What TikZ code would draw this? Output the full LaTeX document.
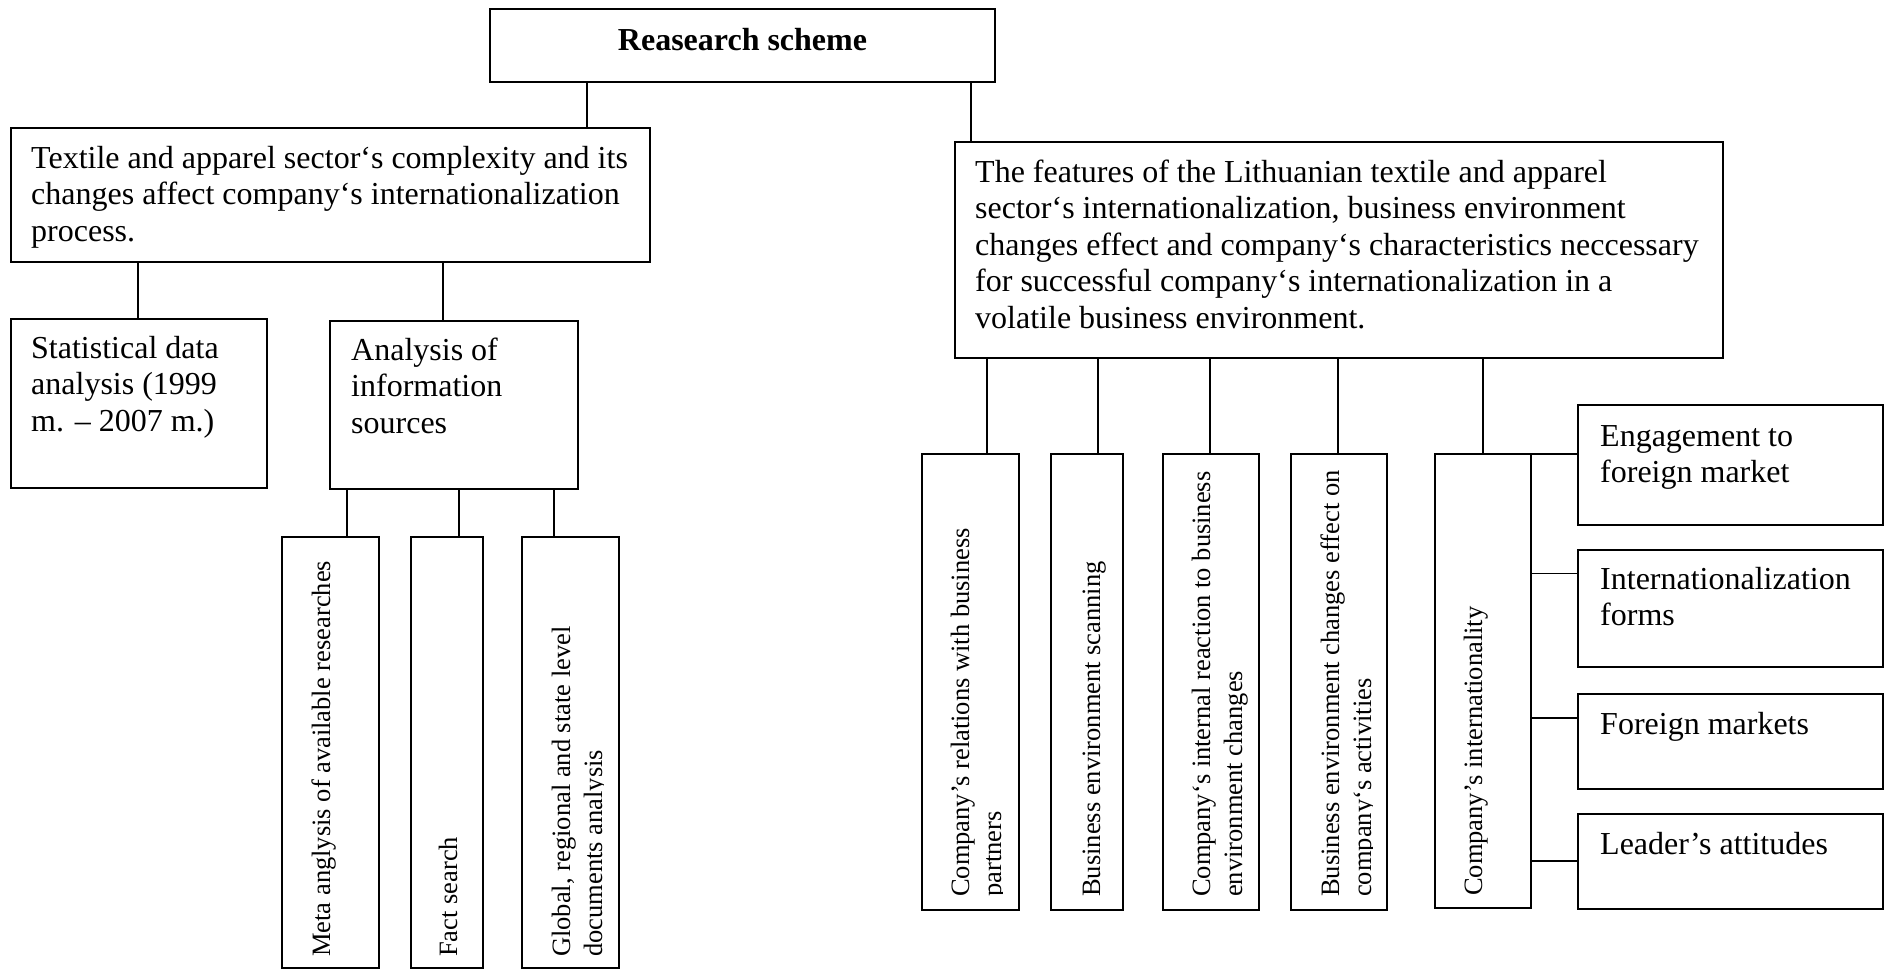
\documentclass[tikz,border=0pt]{standalone}
\usepackage{fontspec}
\setmainfont{Liberation Serif}
\newcommand\lns[1]{\begin{tabular}[t]{@{}l@{}}#1\end{tabular}}
\newcommand\mybox[5]{\node[box, minimum width=#4-#2, minimum height=#5-#3] (#1) at (#2,#3) {};}
\newcommand\vlink[3]{\draw[link] (#1,0 |- #2.south) -- (#1,0 |- #3.north);}
\newcommand\hlink[3]{\draw[link] (#2.east |- 0,#1) -- (#3.west |- 0,#1);}
\begin{document}
\begin{tikzpicture}[x=1pt, y=-1pt,
  box/.style={draw, line width=2.2pt, inner sep=0pt, outer sep=0pt, anchor=north west},
  link/.style={line width=1.8pt},
  txt/.style={inner sep=0pt, anchor=base west, font=\fontsize{32}{36.6}\selectfont},
  vtxt/.style={inner sep=0pt, anchor=base west, rotate=90, font=\fontsize{26.5}{32}\selectfont}]
\useasboundingbox[fill=white] (0,0) rectangle (1885,970);
% boxes
\mybox{top}{490}{9}{995}{82}
\mybox{lb}{11}{128}{650}{262}
\mybox{stat}{11}{319}{267}{488}
\mybox{anal}{330}{321}{578}{489}
\mybox{meta}{282}{537}{379}{968}
\mybox{fact}{411}{537}{483}{968}
\mybox{glob}{522}{537}{619}{968}
\mybox{rb}{955}{142}{1723}{358}
\mybox{rel}{922}{454}{1019}{910}
\mybox{scan}{1051}{454}{1123}{910}
\mybox{intr}{1163}{454}{1259}{910}
\mybox{eff}{1291}{454}{1387}{910}
\mybox{intl}{1435}{454}{1531}{908}
\mybox{eng}{1578}{405}{1883}{525}
\mybox{forms}{1578}{550}{1883}{667}
\mybox{fm}{1578}{694}{1883}{789}
\mybox{lead}{1578}{814}{1883}{909}
% connectors
\vlink{587}{top}{lb}
\vlink{971}{top}{rb}
\vlink{138}{lb}{stat}
\vlink{443}{lb}{anal}
\vlink{347}{anal}{meta}
\vlink{459}{anal}{fact}
\vlink{554}{anal}{glob}
\vlink{987}{rb}{rel}
\vlink{1098}{rb}{scan}
\vlink{1210}{rb}{intr}
\vlink{1338}{rb}{eff}
\vlink{1483}{rb}{intl}
\hlink{454}{intl}{eng}
\hlink{573.5}{intl}{forms}
\hlink{718}{intl}{fm}
\hlink{861}{intl}{lead}
% horizontal texts
\node[txt, anchor=base, font=\fontsize{32}{36.6}\selectfont\bfseries] (topt) at (742.5,50) {Reasearch scheme};
\node[txt] (lbt) at (31,168) {\lns{Textile and apparel sector‘s complexity and its\\changes affect company‘s internationalization\\process.}};
\node[txt] (statt) at (31,358) {\lns{Statistical data\\analysis (1999\\m. – 2007 m.)}};
\node[txt] (analt) at (351,360) {\lns{Analysis of\\information\\sources}};
\node[txt] (rbt) at (975,182) {\lns{The features of the Lithuanian textile and apparel\\sector‘s internationalization, business environment\\changes effect and company‘s characteristics neccessary\\for successful company‘s internationalization in a\\volatile business environment.}};
\node[txt] (engt) at (1600,446) {\lns{Engagement to\\foreign market}};
\node[txt] (formst) at (1600,589) {\lns{Internationalization\\forms}};
\node[txt] (fmt) at (1600,734) {Foreign markets};
\node[txt] (leadt) at (1600,854) {Leader’s attitudes};
% rotated texts
\node[vtxt] (metat) at (330,957) {Meta anglysis of available researches};
\node[vtxt] (factt) at (457,957) {Fact search};
\begin{scope}
\clip (glob.north west) rectangle ([xshift=-16pt]glob.south east);
\node[vtxt] (globt) at (570,957) {\lns{Global, regional and state level\\documents analysis}};
\end{scope}
\begin{scope}
\clip (rel.north west) rectangle ([xshift=-17pt]rel.south east);
\node[vtxt] (relt) at (969,897) {\lns{Company’s relations with business\\partners}};
\end{scope}
\node[vtxt] (scant) at (1100,897) {Business environment scanning};
\node[vtxt] (intrt) at (1210,897) {\lns{Company‘s internal reaction to business\\environment changes}};
\begin{scope}
\clip (eff.north west) rectangle ([xshift=-15pt]eff.south east);
\node[vtxt] (efft) at (1339,897) {\lns{Business environment changes effect on\\company‘s activities}};
\end{scope}
\node[vtxt] (intlt) at (1482,896) {Company’s internationality};
\end{tikzpicture}
\end{document}
